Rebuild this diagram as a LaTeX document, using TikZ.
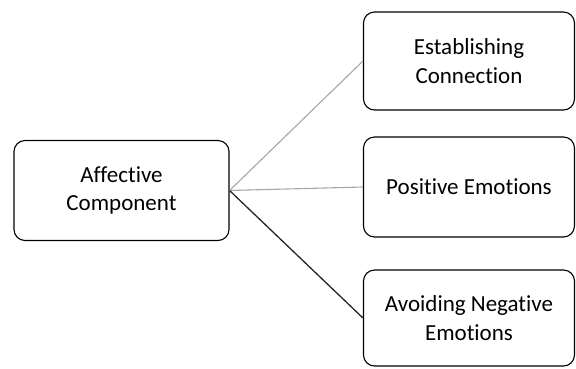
\documentclass[tikz,border=0pt]{standalone}
\usepackage{fontspec}
\setmainfont{Carlito}[Ligatures=NoCommon]
\begin{document}
\begin{tikzpicture}[x=1pt,y=-1pt,
  box/.style={draw=black, line width=1.1pt, rounded corners=11pt, align=center,
    font=\fontsize{23}{28.5}\selectfont, inner sep=0pt},
  lightlink/.style={draw=black!35, line width=1.1pt},
  darklink/.style={draw=black!85, line width=1.3pt}]
\useasboundingbox (0,0) rectangle (576,368);
\node[box, minimum width=215pt, minimum height=100pt] (ac) at (121.5,190.5) {Affective\\Component};
\node[box, minimum width=211pt, minimum height=98pt] (ec) at (469,61) {Establishing\\Connection};
\node[box, minimum width=211pt, minimum height=100pt] (pe) at (469,187) {Positive Emotions};
\node[box, minimum width=211pt, minimum height=96pt] (an) at (469,318) {Avoiding Negative\\Emotions};
\draw[lightlink] (ac.east) -- (ec.west);
\draw[lightlink] (ac.east) -- (pe.west);
\draw[darklink] (ac.east) -- (an.west);
\end{tikzpicture}
\end{document}
